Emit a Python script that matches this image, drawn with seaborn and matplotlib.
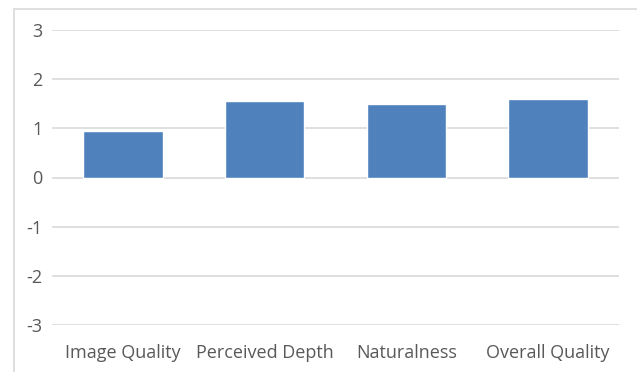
import matplotlib
matplotlib.use("Agg")
import matplotlib.pyplot as plt
import seaborn as sns
import pandas as pd
from matplotlib.patches import Rectangle

categories = ["Image Quality", "Perceived Depth", "Naturalness", "Overall Quality"]
scores = [0.95, 1.55, 1.49, 1.59]
yticks = [-3, -2, -1, 0, 1, 2, 3]

df = pd.DataFrame({"category": categories, "score": scores})

sns.set_style("white")
plt.rcParams["font.family"] = ["Open Sans", "DejaVu Sans"]

W, H = 637, 372
fig = plt.figure(figsize=(W / 100, H / 100), dpi=100)
ax = fig.add_axes([52 / W, 1 - 325 / H, (619 - 52) / W, (325 - 30) / H])

sns.barplot(data=df, x="category", y="score", color="#4F81BD",
            saturation=1, width=0.56, ax=ax, zorder=3)

ax.set_ylim(-3, 3)
ax.set_xlim(-0.5, 3.5)
ax.set_yticks(yticks)
ax.set_yticklabels([str(t) for t in yticks])
ax.yaxis.grid(True, color="#D9D9D9", linewidth=1.2, zorder=0)
ax.set_axisbelow(True)
for s in ax.spines.values():
    s.set_visible(False)
ax.tick_params(axis="both", length=0, labelsize=13, colors="#595959")
ax.tick_params(axis="y", pad=7)
ax.tick_params(axis="x", pad=14)
ax.set_xlabel("")
ax.set_ylabel("")

# chart-area border (cropped on right and bottom)
fig.add_artist(Rectangle((14 / W, -0.1), 1.2, 1 - 9 / H + 0.1,
                         transform=fig.transFigure, fill=False,
                         edgecolor="#D9D9D9", linewidth=1.2))

fig.savefig("out.png", dpi=100, facecolor="white")
